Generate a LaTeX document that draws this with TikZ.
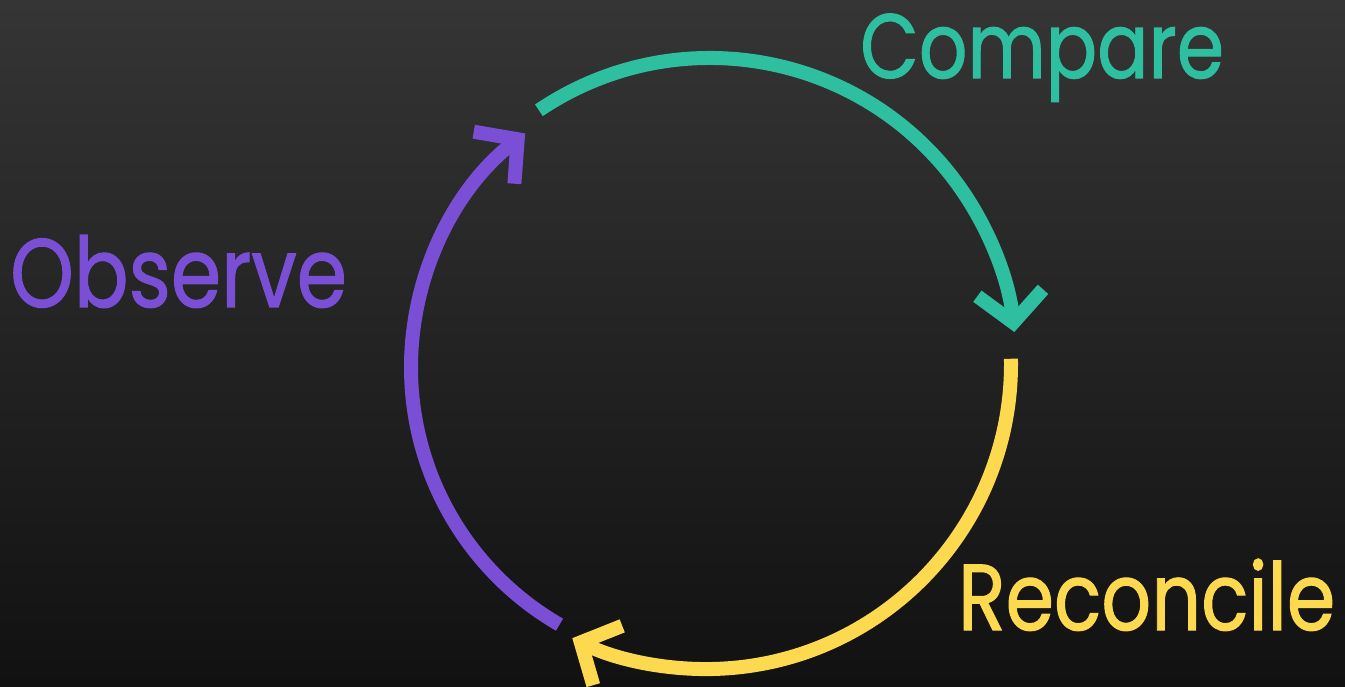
\documentclass[tikz,border=0pt]{standalone}
\usepackage{fontspec}
\setmainfont{Poppins}[FakeBold=1.2]
\usetikzlibrary{arrows.meta, positioning, calc}
\definecolor{bgtop}{RGB}{53,53,53}
\definecolor{bgbottom}{RGB}{17,17,17}
\definecolor{compareteal}{RGB}{46,190,160}
\definecolor{observepurple}{RGB}{122,79,214}
\definecolor{reconcileyellow}{RGB}{253,217,80}
\tikzset{
        cycle arc/.style={
		line width=14pt,
		-{Straight Barb[length=30pt, width=66pt]},
	  },
  		stage label/.style={
    	anchor=base west,
		inner sep=0pt,
		yscale=1.2, transform shape,
		font=\fontsize{#1}{90}\selectfont,
      }
  	}
\begin{document}
\begin{tikzpicture}[x=1pt, y=1pt]
    % background
    \fill[top color=bgtop, bottom color=bgbottom] (0,0) rectangle (1345,-687);
    \useasboundingbox (0,0) rectangle (1345,-687);
    \coordinate (hub) at (710,-364);
    % labels
    \node [stage label=76, text=compareteal] (compare) at (860,-78) {Compare};
    \node [stage label=81, text=observepurple] (observe) at (10,-307) {Observe};
    \node [stage label=78, text=reconcileyellow] (reconcile) at (958,-630) {Reconcile};
    % cycle
    \coordinate (compare start) at ($(hub)+(124:306)$);
    \coordinate (reconcile start) at ($(hub)+(1:301)$);
    \coordinate (observe start) at ($(hub)+(-120:301)$);
    \draw [cycle arc, compareteal] (compare start) arc[start angle=124, end angle=6, radius=306];
    \draw [cycle arc, reconcileyellow] (reconcile start) arc[start angle=1, end angle=-116, radius=305];
    \draw [cycle arc, observepurple] (observe start) arc[start angle=240, end angle=128, radius=297];
  \end{tikzpicture}
\end{document}
